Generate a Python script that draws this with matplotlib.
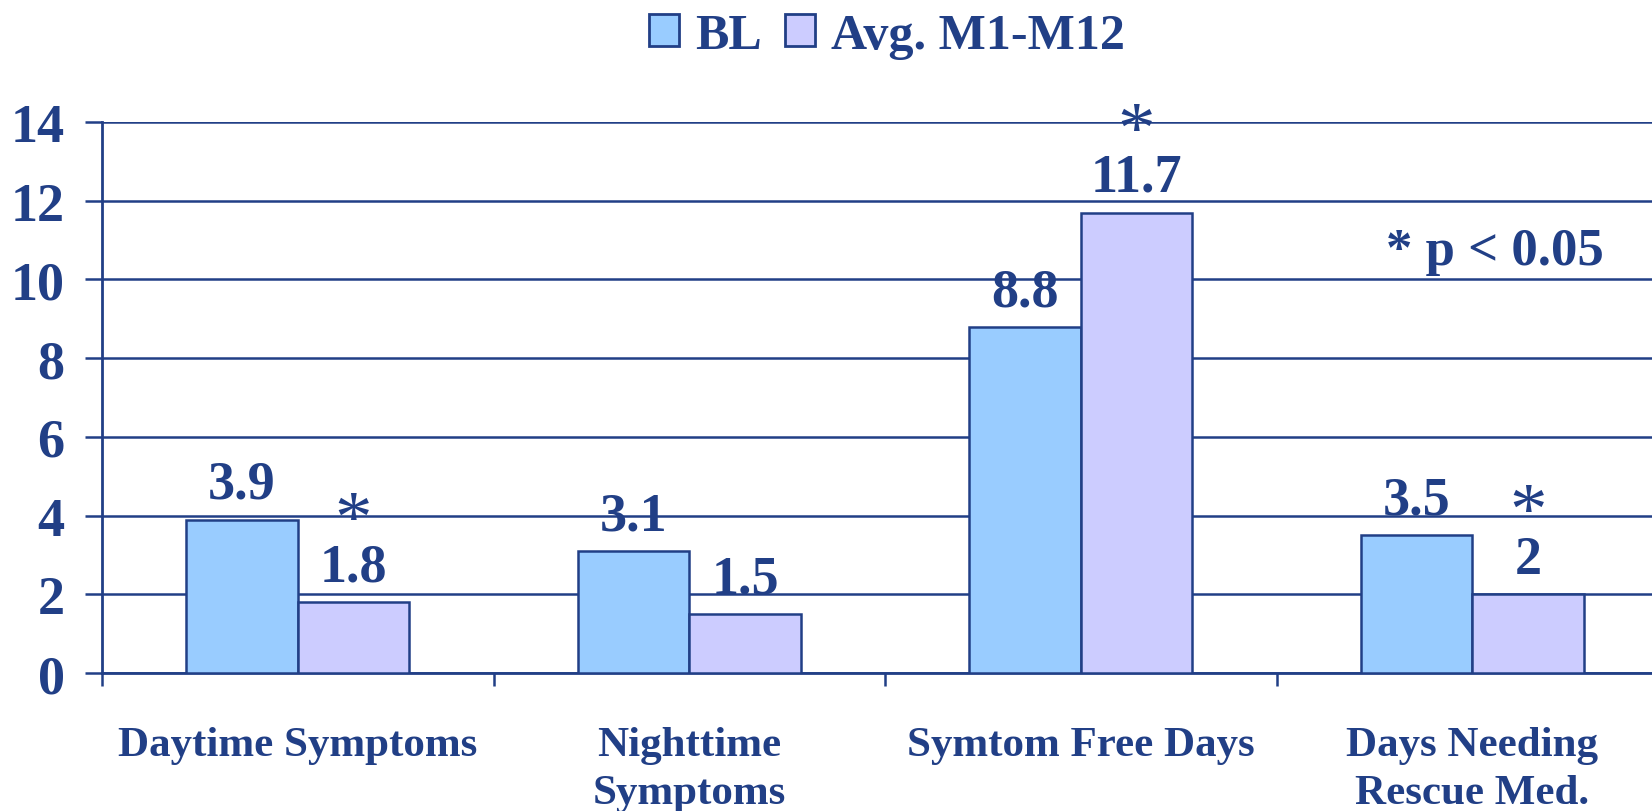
import matplotlib
matplotlib.use("Agg")
import matplotlib.pyplot as plt
import numpy as np
from matplotlib.patches import Patch

categories = ["Daytime Symptoms", "Nighttime\nSymptoms", "Symtom Free Days", "Days Needing\nRescue Med."]
bl_values = [3.9, 3.1, 8.8, 3.5]
avg_values = [1.8, 1.5, 11.7, 2.0]
avg_labels = ["1.8", "1.5", "11.7", "2"]
bl_labels = ["3.9", "3.1", "8.8", "3.5"]
avg_significant = [True, False, True, True]
series_names = ["BL", "Avg. M1-M12"]
y_ticks = [0, 2, 4, 6, 8, 10, 12, 14]

NAVY = "#213F86"
C_BL = "#99CCFF"
C_AVG = "#CCCCFF"
FONT = "Liberation Serif"

plt.rcParams["font.family"] = [FONT, "DejaVu Serif"]
plt.rcParams["font.weight"] = "bold"

W, H = 1652, 812
fig = plt.figure(figsize=(W / 100, H / 100), dpi=100)
ax = fig.add_axes([102 / W, 1 - 674 / H, 1566 / W, 551 / H])

x = np.arange(len(categories))
bw = 0.285
ax.bar(x - bw / 2, bl_values, bw, color=C_BL, edgecolor=NAVY, linewidth=1.8, zorder=3)
ax.bar(x + bw / 2, avg_values, bw, color=C_AVG, edgecolor=NAVY, linewidth=1.8, zorder=3)

for xi, v, lab in zip(x, bl_values, bl_labels):
    ax.text(xi - bw / 2, v + 0.55, lab, ha="center", va="baseline", fontsize=39,
            fontweight="bold", color=NAVY, zorder=4)
for xi, v, lab, sig in zip(x, avg_values, avg_labels, avg_significant):
    ax.text(xi + bw / 2, v + 0.55, lab, ha="center", va="baseline", fontsize=39,
            fontweight="bold", color=NAVY, zorder=4)
    if sig:
        ax.text(xi + bw / 2, v + 1.55, "*", ha="center", va="baseline", fontsize=54,
                fontweight="normal", color=NAVY, zorder=4)

ax.text(3.058, 10.39, "* p < 0.05", ha="center", va="baseline", fontsize=38,
        fontweight="bold", color=NAVY)

ax.set_xlim(-0.5, 3.5)
ax.set_ylim(0, 14)
ax.set_yticks(y_ticks)
ax.set_yticklabels([str(t) for t in y_ticks], fontsize=39, fontweight="bold", color=NAVY)
ax.yaxis.grid(True, color=NAVY, linewidth=1.8, zorder=0)
ax.set_axisbelow(True)
ax.tick_params(axis="y", direction="out", length=12, width=1.8, color=NAVY, pad=15)

ax.set_xticks(x)
ax.set_xticklabels(categories, fontsize=31, fontweight="bold", color=NAVY, linespacing=1.36)
ax.set_xticks(np.arange(-0.5, 4.0, 1.0), minor=True)
ax.tick_params(axis="x", which="major", length=0, pad=38)
ax.tick_params(axis="x", which="minor", direction="out", length=9, width=1.8, color=NAVY)

for s in ["top", "right"]:
    ax.spines[s].set_visible(False)
for s in ["left", "bottom"]:
    ax.spines[s].set_color(NAVY)
    ax.spines[s].set_linewidth(2.0)

handles = [Patch(facecolor=C_BL, edgecolor=NAVY, linewidth=2.0),
           Patch(facecolor=C_AVG, edgecolor=NAVY, linewidth=2.0)]
leg = fig.legend(handles, series_names, loc="center", bbox_to_anchor=(0.537, 0.955), ncol=2,
                 frameon=False, handlelength=0.6, handleheight=0.6, handletextpad=0.32,
                 columnspacing=0.46, prop={"family": FONT, "weight": "bold", "size": 36})
for t in leg.get_texts():
    t.set_color(NAVY)

fig.savefig("out.png", dpi=100)
